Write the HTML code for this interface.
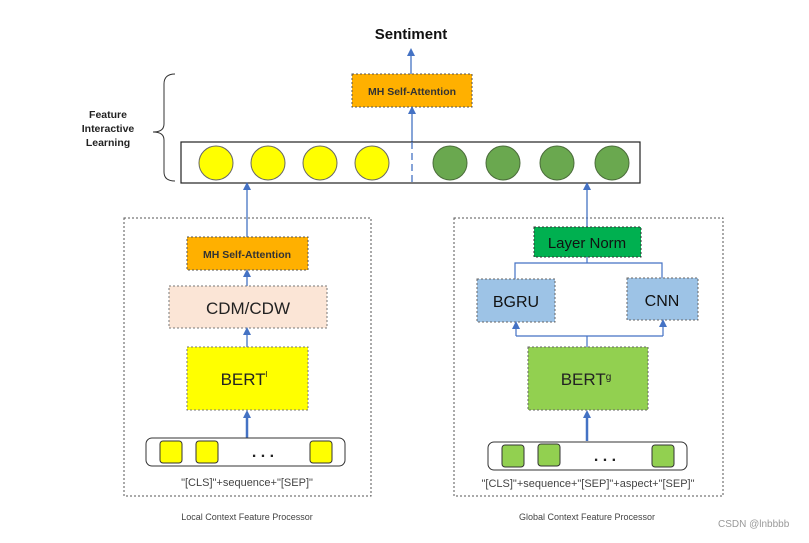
<!DOCTYPE html>
<html><head><style>
body{margin:0;background:#fff;}
svg text{font-family:"Liberation Sans",sans-serif;}
</style></head><body>
<svg width="809" height="538" viewBox="0 0 809 538" xmlns="http://www.w3.org/2000/svg">
<defs><marker id="a" markerWidth="8" markerHeight="8" refX="4" refY="4" orient="auto" markerUnits="userSpaceOnUse"><path d="M0,0 L8,4 L0,8 z" fill="#4472c4"/></marker></defs>
<text x="411" y="39" font-size="15" font-weight="bold" text-anchor="middle" fill="#111">Sentiment</text>
<!-- top arrow -->
<line x1="411" y1="74" x2="411" y2="52" stroke="#4472c4" stroke-width="1.3" marker-end="url(#a)"/>
<rect x="352" y="74" width="120" height="33" fill="#ffb000" stroke="#555" stroke-dasharray="2,2"/>
<text x="412" y="95" font-size="10.5" font-weight="bold" text-anchor="middle" fill="#333">MH Self-Attention</text>
<line x1="412" y1="142" x2="412" y2="110" stroke="#4472c4" stroke-width="1.3" marker-end="url(#a)"/>
<!-- feature bar -->
<rect x="181" y="142" width="459" height="41" fill="#fff" stroke="#222" stroke-width="1.2"/>
<line x1="412" y1="142" x2="412" y2="183" stroke="#4472c4" stroke-width="1.3" stroke-dasharray="7,4"/>
<g fill="#ffff00" stroke="#666"><circle cx="216" cy="163" r="17"/><circle cx="268" cy="163" r="17"/><circle cx="320" cy="163" r="17"/><circle cx="372" cy="163" r="17"/></g>
<g fill="#6aa84f" stroke="#4a6b3a"><circle cx="450" cy="163" r="17"/><circle cx="503" cy="163" r="17"/><circle cx="557" cy="163" r="17"/><circle cx="612" cy="163" r="17"/></g>
<!-- brace -->
<path d="M175,74 Q164,74 164,84 L164,124 Q164,132 153,132 Q164,132 164,140 L164,172 Q164,181 175,181" fill="none" stroke="#333" stroke-width="1"/>
<g font-size="10.5" font-weight="bold" fill="#222" text-anchor="middle"><text x="108" y="118">Feature</text><text x="108" y="132">Interactive</text><text x="108" y="146">Learning</text></g>
<!-- left panel -->
<rect x="124" y="218" width="247" height="278" fill="none" stroke="#555" stroke-dasharray="2,2"/>
<line x1="247" y1="237" x2="247" y2="186" stroke="#4472c4" stroke-width="1.3" marker-end="url(#a)"/>
<rect x="187" y="237" width="121" height="33" fill="#ffb000" stroke="#555" stroke-dasharray="2,2"/>
<text x="247" y="258" font-size="10.5" font-weight="bold" text-anchor="middle" fill="#333">MH Self-Attention</text>
<line x1="247" y1="286" x2="247" y2="273" stroke="#4472c4" stroke-width="1.3" marker-end="url(#a)"/>
<rect x="169" y="286" width="158" height="42" fill="#fbe5d6" stroke="#777" stroke-dasharray="2,2"/>
<text x="248" y="314" font-size="17" text-anchor="middle" fill="#222">CDM/CDW</text>
<line x1="247" y1="347" x2="247" y2="331" stroke="#4472c4" stroke-width="1.3" marker-end="url(#a)"/>
<rect x="187" y="347" width="121" height="63" fill="#ffff00" stroke="#777" stroke-dasharray="2,2"/>
<text x="244" y="385" font-size="17" text-anchor="middle" fill="#222">BERT<tspan font-size="8" dy="-8">l</tspan></text>
<line x1="247" y1="438" x2="247" y2="414" stroke="#4472c4" stroke-width="2.5" marker-end="url(#a)"/>
<rect x="146" y="438" width="199" height="28" rx="6" fill="#fff" stroke="#333"/>
<g fill="#ffff00" stroke="#333"><rect x="160" y="441" width="22" height="22" rx="3"/><rect x="196" y="441" width="22" height="22" rx="3"/><rect x="310" y="441" width="22" height="22" rx="3"/></g>
<text x="263" y="457" font-size="16" font-weight="bold" text-anchor="middle" fill="#222">. . .</text>
<text x="247" y="486" font-size="11" text-anchor="middle" fill="#444">"[CLS]"+sequence+"[SEP]"</text>
<text x="247" y="520" font-size="9" text-anchor="middle" fill="#444">Local Context Feature Processor</text>
<!-- right panel -->
<rect x="454" y="218" width="269" height="278" fill="none" stroke="#555" stroke-dasharray="2,2"/>
<line x1="587" y1="227" x2="587" y2="186" stroke="#4472c4" stroke-width="1.3" marker-end="url(#a)"/>
<rect x="534" y="227" width="107" height="30" fill="#00b050" stroke="#333" stroke-dasharray="2,2"/>
<text x="587" y="248" font-size="15" text-anchor="middle" fill="#111">Layer Norm</text>
<path d="M587,257 V263 M515,279 V263 H662 V278" fill="none" stroke="#4472c4" stroke-width="1.2"/>
<rect x="477" y="279" width="78" height="43" fill="#9dc3e6" stroke="#666" stroke-dasharray="2,2"/>
<text x="516" y="307" font-size="16" text-anchor="middle" fill="#111">BGRU</text>
<rect x="627" y="278" width="71" height="42" fill="#9dc3e6" stroke="#666" stroke-dasharray="2,2"/>
<text x="662" y="306" font-size="16" text-anchor="middle" fill="#111">CNN</text>
<path d="M587,347 V336 H516 M587,336 H663" fill="none" stroke="#4472c4" stroke-width="1.2"/>
<line x1="516" y1="336" x2="516" y2="325" stroke="#4472c4" stroke-width="1.2" marker-end="url(#a)"/>
<line x1="663" y1="336" x2="663" y2="323" stroke="#4472c4" stroke-width="1.2" marker-end="url(#a)"/>
<rect x="528" y="347" width="120" height="63" fill="#92d050" stroke="#666" stroke-dasharray="2,2"/>
<text x="586" y="385" font-size="17" text-anchor="middle" fill="#222">BERT<tspan font-size="10" dy="-5">g</tspan></text>
<line x1="587" y1="441" x2="587" y2="414" stroke="#4472c4" stroke-width="2.5" marker-end="url(#a)"/>
<rect x="488" y="442" width="199" height="28" rx="6" fill="#fff" stroke="#333"/>
<g fill="#92d050" stroke="#333"><rect x="502" y="445" width="22" height="22" rx="3"/><rect x="538" y="444" width="22" height="22" rx="3"/><rect x="652" y="445" width="22" height="22" rx="3"/></g>
<text x="605" y="461" font-size="16" font-weight="bold" text-anchor="middle" fill="#222">. . .</text>
<text x="588" y="487" font-size="11" text-anchor="middle" fill="#444">"[CLS]"+sequence+"[SEP]"+aspect+"[SEP]"</text>
<text x="587" y="520" font-size="9" text-anchor="middle" fill="#444">Global Context Feature Processor</text>
<text x="718" y="527" font-size="10" fill="#999">CSDN @lnbbbb</text>
</svg>
</body></html>
